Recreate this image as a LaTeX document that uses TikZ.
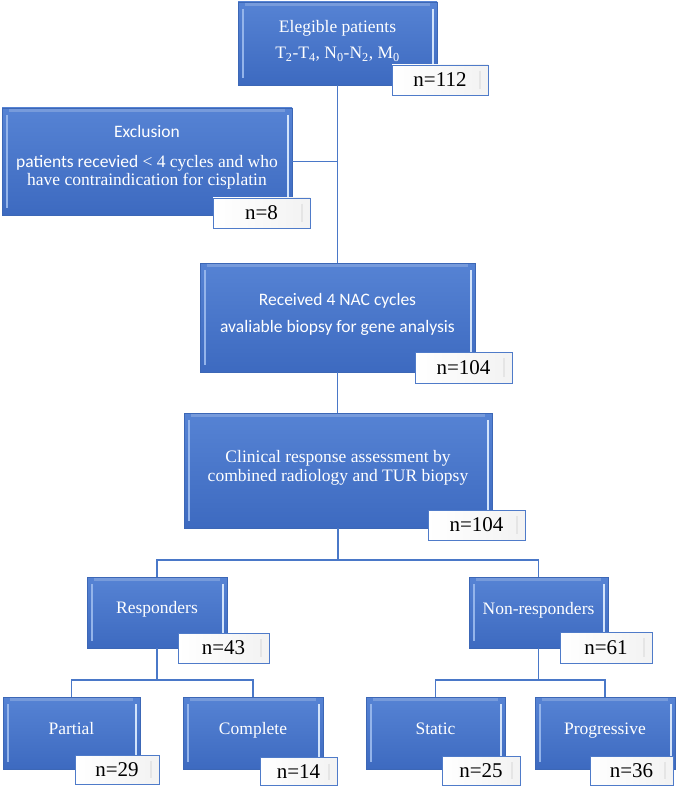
\documentclass[tikz,border=0pt]{standalone}
\usepackage{fontspec}
\setmainfont{Liberation Serif}
\setsansfont{Carlito}
\definecolor{btop}{HTML}{5683D4}
\definecolor{bbot}{HTML}{3D6AC0}
\definecolor{bdr}{HTML}{3C67B6}
\definecolor{bevl}{HTML}{94B4EA}
\definecolor{bevr}{HTML}{D2E3FA}
\definecolor{conncol}{HTML}{4A78C8}
\definecolor{nbdr}{HTML}{4F7BC9}
\tikzset{
  bluebox/.style={rectangle, draw=bdr, line width=0.6pt, top color=btop, bottom color=bbot, inner sep=0pt,
    path picture={
      \draw[bevl, line width=2.5pt] ([xshift=5pt,yshift=-7pt]path picture bounding box.north west) -- ([xshift=5pt,yshift=7pt]path picture bounding box.south west);
      \draw[bevr, line width=2.5pt] ([xshift=-4pt,yshift=-7pt]path picture bounding box.north east) -- ([xshift=-4pt,yshift=7pt]path picture bounding box.south east);
      \draw[white, opacity=0.2, line width=3pt] ([xshift=7pt,yshift=-2.5pt]path picture bounding box.north west) -- ([xshift=-7pt,yshift=-2.5pt]path picture bounding box.north east);
    }},
  nbox/.style={rectangle, draw=nbdr, line width=0.9pt, left color=white, right color=black!5, inner sep=0pt,
    font=\fontsize{21}{21}\selectfont, text=black,
    path picture={
      \draw[black!10, line width=1.5pt] ([xshift=-8pt,yshift=-6pt]path picture bounding box.north east) -- ([xshift=-8pt,yshift=6pt]path picture bounding box.south east);
    }},
  btxt/.style={text=white, align=center, inner sep=0pt, font=\fontsize{17.5}{18}\selectfont},
  link/.style={draw=conncol, line width=1.1pt}
}
\begin{document}
\begin{tikzpicture}[x=1pt, y=-1pt]
\useasboundingbox (0,0) rectangle (676,786);

% level 1
\node[bluebox, minimum width=199pt, minimum height=83pt] (b1) at (337.5,43.5) {};
\node[btxt, font=\fontsize{17.5}{26}\selectfont] (t1) at (337.5,41)
  {Elegible patients\\T\textsubscript{2}-T\textsubscript{4}, N\textsubscript{0}-N\textsubscript{2}, M\textsubscript{0}};

% exclusion
\node[bluebox, minimum width=290pt, minimum height=107pt] (b2) at (147,161.5) {};
\node[btxt, font=\fontsize{17.5}{18.3}\selectfont] (t2) at (147,157)
  {{\sffamily Exclusion}\\[11.7pt]{\sffamily patients recevied} < 4 cycles and who\\have contraindication for cisplatin};

% received
\node[bluebox, minimum width=275pt, minimum height=109pt] (b3) at (337.5,317.5) {};
\node[btxt, font=\sffamily\fontsize{17.5}{27}\selectfont] (t3) at (337.5,314.5)
  {Received 4 NAC cycles\\avaliable biopsy for gene analysis};

% clinical
\node[bluebox, minimum width=308pt, minimum height=115pt] (b4) at (338,470.5) {};
\node[btxt, font=\fontsize{17.5}{19}\selectfont] (t4) at (338,467.5)
  {Clinical response assessment by\\combined radiology and TUR biopsy};

% responders / non-responders
\node[bluebox, minimum width=140pt, minimum height=71pt] (b5) at (157,612.5) {};
\node[btxt, anchor=base] (t5) at (157,613) {Responders};
\node[bluebox, minimum width=139pt, minimum height=71pt] (b6) at (538.5,612.5) {};
\node[btxt, anchor=base] (t6) at (538.5,614) {Non-responders};

% bottom row
\node[bluebox, minimum width=137pt, minimum height=72pt] (b7) at (71.5,733) {};
\node[btxt, anchor=base] (t7) at (71.5,734) {Partial};
\node[bluebox, minimum width=140pt, minimum height=72pt] (b8) at (253,733) {};
\node[btxt, anchor=base] (t8) at (253,734) {Complete};
\node[bluebox, minimum width=139pt, minimum height=72pt] (b9) at (435.5,733) {};
\node[btxt, anchor=base] (t9) at (435.5,734) {Static};
\node[bluebox, minimum width=140pt, minimum height=72pt] (b10) at (605,733) {};
\node[btxt, anchor=base] (t10) at (605,734) {Progressive};

% connectors
\draw[link] (b1.south) -- (b3.north);
\draw[link] (b2.east) -- (b2.east -| b1.south);
\draw[link] (b3.south) -- (b3.south |- b4.north);
\coordinate (j1) at (338,560);
\draw[link] (b4.south) -- (j1);
\draw[link] (b5.north) |- (j1) -| (b6.north);
\coordinate (j2) at (157,680);
\draw[link] (b5.south) -- (j2);
\draw[link] (b7.north) |- (j2) -| (b8.north);
\coordinate (j3) at (538.5,680);
\draw[link] (b6.south) -- (j3);
\draw[link] (b9.north) |- (j3) -| (b10.north);

% count boxes
\node[nbox, minimum width=96pt, minimum height=30pt] (n1) at (440,80) {n=112};
\node[nbox, minimum width=97pt, minimum height=30pt] (n2) at (261.5,213) {n=8};
\node[nbox, minimum width=97pt, minimum height=31pt] (n3) at (463.5,367.5) {n=104};
\node[nbox, minimum width=97pt, minimum height=30pt] (n4) at (476.5,525) {n=104};
\node[nbox, minimum width=91pt, minimum height=30pt] (n5) at (223.5,648) {n=43};
\node[nbox, minimum width=92pt, minimum height=31pt] (n6) at (606,647.5) {n=61};
\node[nbox, minimum width=84pt, minimum height=29pt] (n7) at (117,769.5) {n=29};
\node[nbox, minimum width=77pt, minimum height=28pt] (n8) at (298.5,771.5) {n=14};
\node[nbox, minimum width=78pt, minimum height=29pt] (n9) at (481,770.5) {n=25};
\node[nbox, minimum width=83pt, minimum height=29pt] (n10) at (631.5,770.5) {n=36};
\end{tikzpicture}
\end{document}
